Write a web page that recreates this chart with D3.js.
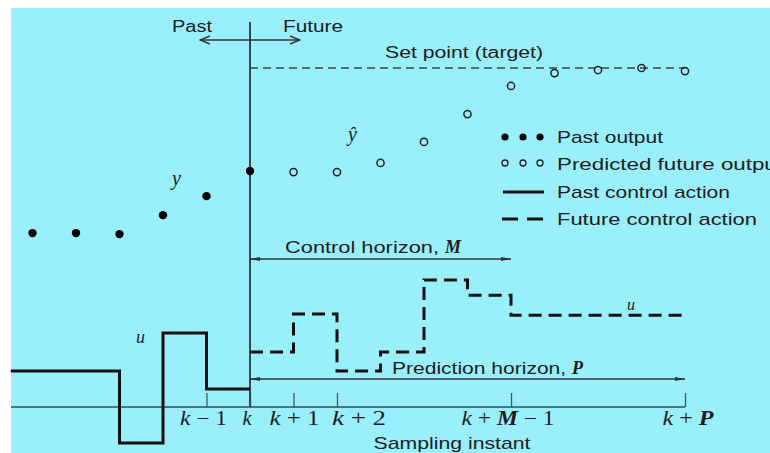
<!DOCTYPE html>
<html><head><meta charset="utf-8">
<script src="https://cdn.jsdelivr.net/npm/d3@7"></script>
<style>
html,body{margin:0;padding:0;background:#fff;}
svg{display:block;}
</style></head>
<body>
<div id="chart"></div>
<script>
// ---------- data ----------
const pastIdx = [-5, -4, -3, -2, -1, 0];
const pastOutput = [5.13, 5.13, 5.10, 5.66, 6.22, 6.96];
const futureIdx = [1, 2, 3, 4, 5, 6, 7, 8, 9, 10];
const predictedOutput = [6.93, 6.93, 7.20, 7.82, 8.64, 9.47, 9.85, 9.94, 10.0, 9.91];
const setPoint = 10;
const pastControlIdx = [-5.5, -3, -2, -1, 0];
const pastControl = [1.06, -1.06, 2.18, 0.53, 0.53];
const futureControlIdx = [0, 1, 2, 3, 4, 5, 6, 10];
const futureControl = [1.62, 2.74, 1.06, 1.62, 3.75, 3.30, 2.71, 2.71];
const tickIdx = [-1, 0, 1, 2, 6, 10];
const tickLabels = ["k − 1", "k", "k + 1", "k + 2", "k + M − 1", "k + P"];
const controlHorizon = 6;   // k+M-1
const predictionHorizon = 10; // k+P
const legendLabels = ["Past output", "Predicted future output", "Past control action", "Future control action"];

// ---------- setup ----------
const W = 770, H = 453;
const svg = d3.select("#chart").append("svg").attr("width", W).attr("height", H);
svg.append("rect").attr("x", 11).attr("y", 8).attr("width", W - 11).attr("height", H - 8).attr("fill", "#9aeffc");

const x = d3.scaleLinear().domain([0, 10]).range([250, 685]);
const y = d3.scaleLinear().domain([0, 10]).range([407, 68]);
const ink = "#1c1c1c";
const sans = "'Liberation Sans', Arial, sans-serif";
const serif = "'Liberation Serif', 'Times New Roman', serif";

const defs = svg.append("defs");
defs.append("marker").attr("id", "ah").attr("viewBox", "0 0 10 6").attr("refX", 10).attr("refY", 3)
  .attr("markerWidth", 10).attr("markerHeight", 6).attr("markerUnits", "userSpaceOnUse").attr("orient", "auto-start-reverse")
  .append("path").attr("d", "M0,1 L10,3 L0,5 Z").attr("fill", "#333");
defs.append("marker").attr("id", "ahv").attr("viewBox", "0 0 12 10").attr("refX", 11).attr("refY", 5)
  .attr("markerWidth", 12).attr("markerHeight", 10).attr("markerUnits", "userSpaceOnUse").attr("orient", "auto-start-reverse")
  .append("path").attr("d", "M1,1 L11,5 L1,9").attr("fill", "none").attr("stroke", "#333").attr("stroke-width", 1.4);

// ---------- axis ----------
const axisG = svg.append("g").attr("transform", `translate(0,${y(0)})`);
const xAxis = d3.axisTop(x).tickValues(tickIdx).tickSize(14).tickFormat("");
axisG.call(xAxis);
axisG.select(".domain").remove();
axisG.selectAll(".tick line").attr("stroke", "#555").attr("stroke-width", 1.3);
axisG.append("line").attr("x1", 11).attr("x2", x(10)).attr("y1", 0).attr("y2", 0).attr("stroke", "#3c4a4f").attr("stroke-width", 1.6);

const labelDx = [-3, -3, 1, 22, -3, 3];
const labelW = [47, 9, 50, 54, 93, 51];
const tl = svg.append("g").selectAll("text").data(tickLabels).join("text")
  .attr("x", (d, i) => x(tickIdx[i]) + labelDx[i]).attr("y", 425)
  .attr("text-anchor", "middle").attr("font-family", serif)
  .attr("font-size", 20).attr("fill", ink)
  .attr("textLength", (d, i) => labelW[i]).attr("lengthAdjust", "spacingAndGlyphs");
tl.each(function(d) {
  const t = d3.select(this);
  d.split(" ").forEach((tok, j) => {
    const isVar = /[kMP]/.test(tok);
    t.append("tspan").attr("font-style", isVar ? "italic" : "normal")
      .attr("font-weight", tok === "M" || tok === "P" ? "bold" : "normal")
      .text((j > 0 ? " " : "") + tok);
  });
});

svg.append("text").attr("x", 452).attr("y", 449).attr("text-anchor", "middle")
  .attr("font-family", sans).attr("font-size", 17).attr("fill", ink)
  .attr("textLength", 157).attr("lengthAdjust", "spacingAndGlyphs").text("Sampling instant");

// ---------- present line ----------
svg.append("line").attr("x1", x(0)).attr("x2", x(0)).attr("y1", 22).attr("y2", y(0))
  .attr("stroke", "#3a474c").attr("stroke-width", 2);

// Past / Future arrow
svg.append("line").attr("x1", x(-1.15)).attr("x2", x(1.15)).attr("y1", 40).attr("y2", 40)
  .attr("stroke", "#333").attr("stroke-width", 1.4)
  .attr("marker-start", "url(#ahv)").attr("marker-end", "url(#ahv)");
svg.append("text").attr("x", 172).attr("y", 32).attr("font-family", sans).attr("font-size", 16).attr("fill", ink)
  .attr("textLength", 40).attr("lengthAdjust", "spacingAndGlyphs").text("Past");
svg.append("text").attr("x", 283).attr("y", 32).attr("font-family", sans).attr("font-size", 16).attr("fill", ink)
  .attr("textLength", 60).attr("lengthAdjust", "spacingAndGlyphs").text("Future");

// ---------- set point ----------
svg.append("line").attr("x1", x(0)).attr("x2", x(10)).attr("y1", y(setPoint)).attr("y2", y(setPoint))
  .attr("stroke", "#444").attr("stroke-width", 1.5).attr("stroke-dasharray", "8,5");
svg.append("text").attr("x", 385).attr("y", 58).attr("font-family", sans).attr("font-size", 16).attr("fill", ink)
  .attr("textLength", 158).attr("lengthAdjust", "spacingAndGlyphs").text("Set point (target)");

// ---------- horizons ----------
const chY = 259, phY = 379;
svg.append("line").attr("x1", x(0)).attr("x2", x(controlHorizon)).attr("y1", chY).attr("y2", chY)
  .attr("stroke", "#333").attr("stroke-width", 1.3).attr("marker-start", "url(#ah)").attr("marker-end", "url(#ah)");
const ch = svg.append("text").attr("x", 285).attr("y", 253).attr("font-family", sans).attr("font-size", 16).attr("fill", ink);
ch.append("tspan").attr("textLength", 160).attr("lengthAdjust", "spacingAndGlyphs").text("Control horizon, ");
ch.append("tspan").attr("font-family", serif).attr("font-style", "italic").attr("font-weight", "bold").attr("font-size", 18).text("M");

svg.append("line").attr("x1", x(0)).attr("x2", x(predictionHorizon)).attr("y1", phY).attr("y2", phY)
  .attr("stroke", "#333").attr("stroke-width", 1.3).attr("marker-start", "url(#ah)").attr("marker-end", "url(#ah)");
const ph = svg.append("text").attr("x", 392).attr("y", 374).attr("font-family", sans).attr("font-size", 16).attr("fill", ink);
ph.append("tspan").attr("textLength", 180).attr("lengthAdjust", "spacingAndGlyphs").text("Prediction horizon, ");
ph.append("tspan").attr("font-family", serif).attr("font-style", "italic").attr("font-weight", "bold").attr("font-size", 18).text("P");

// ---------- control actions ----------
const line = d3.line().x(d => x(d[0])).y(d => y(d[1])).curve(d3.curveStepAfter);
svg.append("path").datum(pastControlIdx.map((v, i) => [v, pastControl[i]]))
  .attr("d", line).attr("fill", "none").attr("stroke", "#111").attr("stroke-width", 3);
svg.append("path").datum(futureControlIdx.map((v, i) => [v, futureControl[i]]))
  .attr("d", line).attr("fill", "none").attr("stroke", "#111").attr("stroke-width", 3)
  .attr("stroke-dasharray", "13,7");

// ---------- outputs ----------
svg.append("g").selectAll("circle").data(pastIdx).join("circle")
  .attr("cx", d => x(d)).attr("cy", (d, i) => y(pastOutput[i])).attr("r", 4.2).attr("fill", "#000");
svg.append("g").selectAll("circle").data(futureIdx).join("circle")
  .attr("cx", d => x(d)).attr("cy", (d, i) => y(predictedOutput[i])).attr("r", 3.6)
  .attr("fill", "none").attr("stroke", "#222").attr("stroke-width", 1.5);

// math labels
function mathLabel(tx, ty, s, size) {
  return svg.append("text").attr("x", tx).attr("y", ty).attr("font-family", serif).attr("font-style", "italic")
    .attr("font-size", size).attr("fill", ink).text(s);
}
mathLabel(172, 185, "y", 20);
mathLabel(348, 141, "ŷ", 20);
mathLabel(136, 343, "u", 18);
mathLabel(627, 310, "u", 16);

// ---------- legend ----------
const lg = svg.append("g");
const lx = [505, 523, 540];
lg.selectAll(".ld").data(lx).join("circle").attr("class", "ld").attr("cx", d => d).attr("cy", 137).attr("r", 3.6).attr("fill", "#000");
lg.selectAll(".lc").data(lx).join("circle").attr("class", "lc").attr("cx", d => d).attr("cy", 163).attr("r", 3)
  .attr("fill", "none").attr("stroke", "#222").attr("stroke-width", 1.3);
lg.append("line").attr("x1", 503).attr("x2", 544).attr("y1", 192).attr("y2", 192).attr("stroke", "#111").attr("stroke-width", 3);
lg.append("line").attr("x1", 502).attr("x2", 543).attr("y1", 219).attr("y2", 219).attr("stroke", "#111").attr("stroke-width", 3)
  .attr("stroke-dasharray", "16,9");
const legW = [106, 226, 173, 200];
const legY = [143, 170, 198, 225];
lg.selectAll("text").data(legendLabels).join("text")
  .attr("x", 557).attr("y", (d, i) => legY[i]).attr("font-family", sans).attr("font-size", 17).attr("fill", ink)
  .attr("textLength", (d, i) => legW[i]).attr("lengthAdjust", "spacingAndGlyphs").text(d => d);
</script>
</body></html>
